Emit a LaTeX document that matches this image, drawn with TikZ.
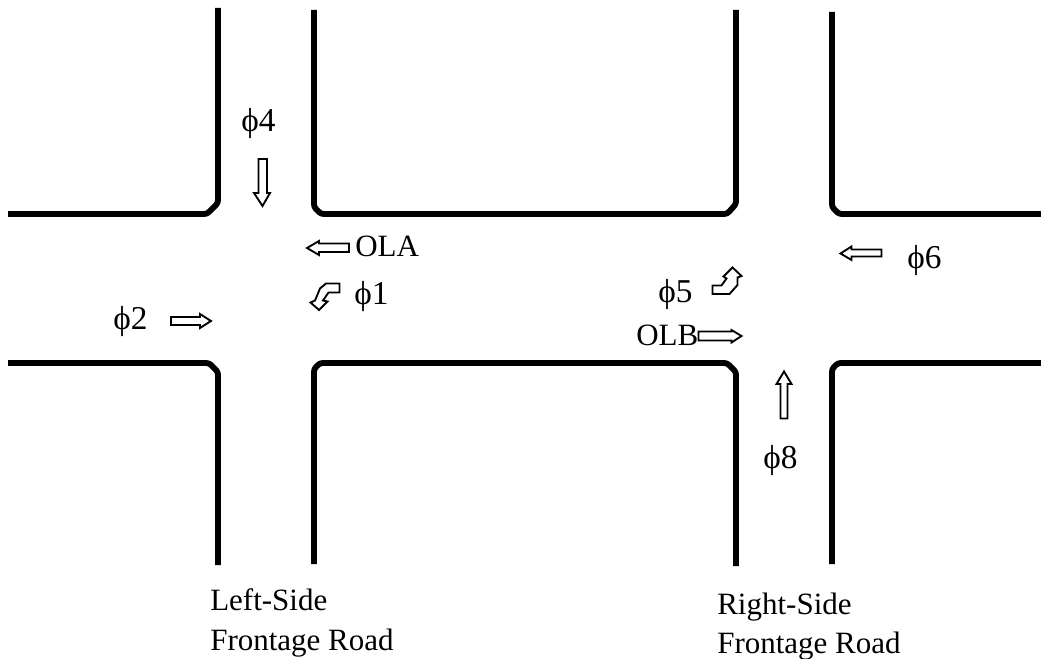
\documentclass[tikz,border=0pt]{standalone}
\usepackage{fontspec}
\setmainfont{Liberation Serif}
\tikzset{
    kerb/.style={line width=4.4pt, line cap=butt, line join=round, rounded corners=2pt},
    flow/.style={draw, line width=1.4pt, fill=white, line join=miter},
    lbl/.style={anchor=base west, inner sep=0pt, font=\fontsize{23.25pt}{28pt}\selectfont},
    phase/.style={lbl, font=\fontsize{25pt}{30pt}\selectfont}
}

\begin{document}
\begin{tikzpicture}[x=0.75pt, y=-0.75pt]
    % Fix the page to the size of the reference
    \useasboundingbox (0,0) rectangle (1041,659);

    % Draw the kerbs of the left-side intersection
    \draw[kerb] (218,8) -- (218,203) -- (207,214) -- (8,214);
    \draw[kerb] (8,363) -- (209,363) -- (218,372) -- (218,565);

    % Draw the kerbs of the block between the two intersections
    \draw[kerb] (314,10) -- (314,207) -- (321,214) -- (727,214) -- (736,204) -- (736,10);
    \draw[kerb] (314,564) -- (314,369) -- (320,363) -- (727,363) -- (736,372) -- (736,566);

    % Draw the kerbs of the right-side intersection
    \draw[kerb] (832,12) -- (832,207) -- (839,214) -- (1041,214);
    \draw[kerb] (832,564) -- (832,369) -- (838,363) -- (1041,363);

    % Straight movements
    \draw[flow] (258.5,159) -- (267,159) -- (267,193) -- (270,193) -- (262.5,206) -- (254,193) -- (258.5,193) -- cycle; % phi 4
    \draw[flow] (171,317) -- (200,317) -- (200,314) -- (211,321) -- (200,328) -- (200,325) -- (171,325) -- cycle; % phi 2
    \draw[flow] (349,243.5) -- (319,243.5) -- (319,241) -- (307,248) -- (319,255) -- (319,252) -- (349,252) -- cycle; % OLA
    \draw[flow] (698.5,331.5) -- (731.5,331.5) -- (731.5,330) -- (741.5,336) -- (731.5,342.5) -- (731.5,340.5) -- (698.5,340.5) -- cycle; % OLB
    \draw[flow] (881.5,249.5) -- (851.5,249.5) -- (851.5,246.5) -- (840.5,253.5) -- (851.5,260) -- (851.5,256.5) -- (881.5,256.5) -- cycle; % phi 6
    \draw[flow] (780.5,418.5) -- (780.5,384) -- (776.5,384) -- (784,371.5) -- (791.5,384) -- (787.5,384) -- (787.5,418.5) -- cycle; % phi 8

    % Turning movements
    \draw[flow] (339.5,283.5) -- (339.5,292.5) -- (328.5,292.5) -- (323,300.5) -- (327.5,301.5) -- (319,310) -- (310.5,302.5) -- (315,300.5) -- (320,288.5) -- (326,283.5) -- cycle; % phi 1
    \draw[flow] (712.5,285.5) -- (721.5,285.5) -- (726.5,278.5) -- (723.5,276.5) -- (732.5,267.5) -- (741.5,276) -- (737.5,277.5) -- (737.5,285) -- (729.5,294) -- (712.5,294) -- cycle; % phi 5

    % Add labels for the phases
    \node[phase] (phifour) at (241,132) {ϕ4};
    \node[phase] (phitwo) at (113,329) {ϕ2};
    \node[phase] (phione) at (354,304) {ϕ1};
    \node[phase] (phifive) at (658,302) {ϕ5};
    \node[phase] (phisix) at (907,268) {ϕ6};
    \node[phase] (phieight) at (763,468) {ϕ8};
    \node[lbl] (ola) at (355,256) {OLA};
    \node[lbl] (olb) at (636,345) {OLB};

    % Add labels for the two roads
    \node[lbl] (leftone) at (210,610) {Left-Side};
    \node[lbl] (lefttwo) at (210,650) {Frontage Road};
    \node[lbl] (rightone) at (717,614) {Right-Side};
    \node[lbl] (righttwo) at (717,653) {Frontage Road};
\end{tikzpicture}
\end{document}
